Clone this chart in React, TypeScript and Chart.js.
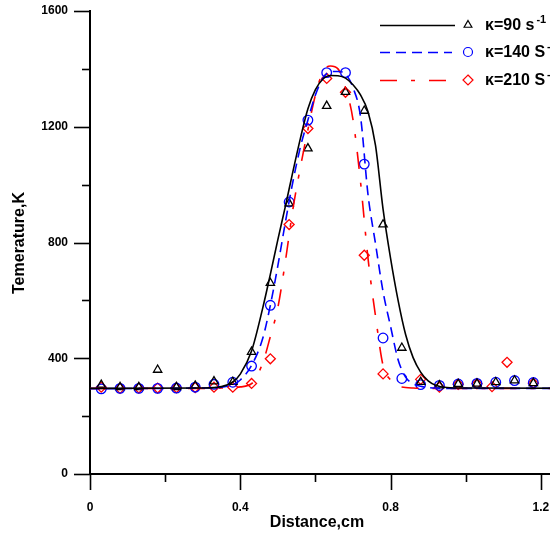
import React, { useEffect, useRef } from "react";
import { Chart, registerables } from "chart.js";

Chart.register(...registerables);

// Measured temperatures (K) at the sampling stations (cm)
const pointDistance = [
  0.03, 0.08, 0.13, 0.18, 0.23, 0.28, 0.33, 0.38, 0.43, 0.48, 0.53, 0.58,
  0.63, 0.68, 0.73, 0.78, 0.83, 0.88, 0.93, 0.98, 1.03, 1.08, 1.13, 1.18,
];
const kappa90Points = [
  308, 300, 300, 360, 300, 305, 320, 318, 422, 660, 935, 1125,
  1272, 1320, 1255, 862, 436, 318, 306, 311, 312, 317, 323, 314,
];
const kappa140Points = [
  294, 296, 296, 296, 297, 300, 310, 317, 373, 583, 940, 1223,
  1387, 1387, 1071, 470, 330, 309, 306, 311, 313, 317, 323, 316,
];
const kappa210Distance = [
  0.03, 0.08, 0.13, 0.18, 0.23, 0.28, 0.33, 0.38, 0.43, 0.48, 0.53, 0.58,
  0.63, 0.68, 0.73, 0.78, 0.88, 0.93, 0.98, 1.03, 1.07, 1.11, 1.18,
];
const kappa210Points = [
  300, 296, 297, 297, 298, 299, 300, 300, 313, 398, 862, 1194,
  1367, 1319, 756, 346, 327, 300, 310, 312, 302, 386, 314,
];

// Computed temperature profiles
const curveDistance = [
  0, 0.3, 0.35, 0.38, 0.4, 0.43, 0.46, 0.48, 0.5, 0.52, 0.54, 0.56, 0.58,
  0.6, 0.62, 0.64, 0.66, 0.68, 0.7, 0.72, 0.74, 0.76, 0.78, 0.8, 0.82,
  0.84, 0.86, 0.88, 0.9, 0.92, 0.95, 1.0, 1.4,
];
const kappa90Curve = [
  296, 297, 302, 318, 345, 425, 575, 690, 810, 925, 1045, 1160, 1262,
  1328, 1365, 1377, 1376, 1368, 1345, 1310, 1252, 1135, 915, 745, 600,
  482, 402, 352, 322, 307, 299, 297, 296,
];
const kappa140Curve = [
  295, 297, 300, 308, 325, 375, 470, 583, 720, 870, 1010, 1130, 1223,
  1310, 1368, 1390, 1391, 1382, 1335, 1235, 965, 795, 630, 510, 395,
  335, 312, 303, 299, 297, 296, 296, 296,
];
const kappa210Curve = [
  296, 296, 297, 298, 301, 312, 385, 475, 575, 735, 915, 1060, 1190,
  1310, 1390, 1410, 1400, 1335, 1225, 1010, 745, 545, 375, 325, 304,
  299, 297, 296, 296, 296, 296, 296, 296,
];

// Axis ticks
const xMajorTicks = [0, 0.4, 0.8, 1.2];
const xTickLabels = ["0", "0.4", "0.8", "1.2"];
const xMinorTicks = [0.2, 0.6, 1.0];
const yMajorTicks = [0, 400, 800, 1200, 1600];
const yTickLabels = ["0", "400", "800", "1200", "1600"];
const yMinorTicks = [200, 600, 1000, 1400];

const legendLabels = ["κ=90 s", "κ=140 S", "κ=210 S"];
const legendSuffix = "-1";

const FONT = '"Liberation Sans", Arial, sans-serif';
const BLUE = "#0000ff";
const RED = "#ff0000";
const BLUE_DASH = [10, 6];
const RED_DASH = [17, 14, 4, 14];

const zip = (xs: number[], ys: number[]) => xs.map((x, i) => ({ x, y: ys[i] }));

function drawMarker(ctx: CanvasRenderingContext2D, kind: string, x: number, y: number, r: number) {
  ctx.beginPath();
  if (kind === "triangle") {
    ctx.moveTo(x, y - r);
    ctx.lineTo(x + r * 0.866, y + r * 0.5);
    ctx.lineTo(x - r * 0.866, y + r * 0.5);
    ctx.closePath();
  } else if (kind === "circle") {
    ctx.arc(x, y, r, 0, Math.PI * 2);
  } else {
    ctx.moveTo(x, y - r);
    ctx.lineTo(x + r, y);
    ctx.lineTo(x, y + r);
    ctx.lineTo(x - r, y);
    ctx.closePath();
  }
  ctx.stroke();
}

const axisDecor = {
  id: "axisDecor",
  afterDraw(chart: any) {
    const { ctx, scales, chartArea } = chart;
    const xs = scales.x;
    const ys = scales.y;
    ctx.save();
    ctx.strokeStyle = "#000";
    ctx.lineWidth = 1.6;
    // y tick marks (outside, to the left)
    const drawY = (v: number, len: number) => {
      const py = Math.round(ys.getPixelForValue(v)) + 0.5;
      ctx.beginPath();
      ctx.moveTo(chartArea.left - len, py);
      ctx.lineTo(chartArea.left, py);
      ctx.stroke();
    };
    yMajorTicks.forEach((v) => drawY(v, 16));
    yMinorTicks.forEach((v) => drawY(v, 8));
    // x tick marks (outside, below)
    const drawX = (v: number, len: number) => {
      const px = Math.round(xs.getPixelForValue(v)) + 0.5;
      ctx.beginPath();
      ctx.moveTo(px, chartArea.bottom);
      ctx.lineTo(px, chartArea.bottom + len);
      ctx.stroke();
    };
    xMajorTicks.forEach((v) => drawX(v, 16));
    xMinorTicks.forEach((v) => drawX(v, 8));

    // axis titles
    ctx.fillStyle = "#000";
    ctx.font = `bold 16px ${FONT}`;
    ctx.textAlign = "center";
    ctx.textBaseline = "middle";
    ctx.fillText("Distance,cm", 317, 523);
    ctx.save();
    ctx.translate(20, 243);
    ctx.rotate(-Math.PI / 2);
    ctx.fillText("Temerature,K", 0, 0);
    ctx.restore();

    // legend
    const rows = [
      { y: 25, color: "#000", dash: [] as number[], x2: 455, marker: "triangle", r: 4.5 },
      { y: 52, color: BLUE, dash: BLUE_DASH, x2: 452, marker: "circle", r: 4.5 },
      { y: 80, color: RED, dash: RED_DASH, x2: 446, marker: "diamond", r: 5 },
    ];
    rows.forEach((row, i) => {
      ctx.strokeStyle = row.color;
      ctx.lineWidth = 1.6;
      ctx.setLineDash(row.dash);
      ctx.beginPath();
      ctx.moveTo(380, row.y + 0.5);
      ctx.lineTo(row.x2, row.y + 0.5);
      ctx.stroke();
      ctx.setLineDash([]);
      ctx.lineWidth = 1.2;
      drawMarker(ctx, row.marker, 468, row.y, row.r);
      ctx.fillStyle = "#000";
      ctx.textAlign = "left";
      ctx.textBaseline = "middle";
      ctx.font = `bold 16px ${FONT}`;
      ctx.fillText(legendLabels[i], 485, row.y + 1);
      const w = ctx.measureText(legendLabels[i]).width;
      ctx.font = `bold 11px ${FONT}`;
      ctx.fillText(legendSuffix, 485 + w + 2, row.y - 5);
    });
    ctx.restore();
  },
};

export default function App() {
  const canvasRef = useRef<HTMLCanvasElement | null>(null);

  useEffect(() => {
    const canvas = canvasRef.current;
    if (!canvas) return;

    const curveStyle = {
      type: "line" as const,
      pointRadius: 0,
      borderWidth: 1.6,
      fill: false,
      cubicInterpolationMode: "monotone" as const,
      showLine: true,
    };
    const markerStyle = {
      type: "scatter" as const,
      showLine: false,
      backgroundColor: "rgba(0,0,0,0)",
      pointBorderWidth: 1.3,
    };

    const chart = new Chart(canvas, {
      type: "scatter",
      data: {
        datasets: [
          { ...curveStyle, label: "κ=90 curve", data: zip(curveDistance, kappa90Curve), borderColor: "#000" },
          { ...curveStyle, label: "κ=140 curve", data: zip(curveDistance, kappa140Curve), borderColor: BLUE, borderDash: BLUE_DASH },
          { ...curveStyle, label: "κ=210 curve", data: zip(curveDistance, kappa210Curve), borderColor: RED, borderDash: RED_DASH },
          { ...markerStyle, label: "κ=90", data: zip(pointDistance, kappa90Points), borderColor: "#000", pointStyle: "triangle", pointRadius: 4.8 },
          { ...markerStyle, label: "κ=140", data: zip(pointDistance, kappa140Points), borderColor: BLUE, pointStyle: "circle", pointRadius: 4.8 },
          { ...markerStyle, label: "κ=210", data: zip(kappa210Distance, kappa210Points), borderColor: RED, pointStyle: "rectRot", pointRadius: 5 },
        ] as any,
      },
      options: {
        animation: false,
        responsive: false,
        devicePixelRatio: 1,
        layout: { padding: { top: 11, right: 24, left: 0, bottom: 0 } },
        plugins: { legend: { display: false }, tooltip: { enabled: false } },
        scales: {
          x: {
            type: "linear",
            min: 0,
            max: 1.4,
            grid: { display: false, drawTicks: true, tickLength: 26 },
            border: { display: true, color: "#000", width: 2 },
            afterBuildTicks: (scale: any) => {
              scale.ticks = xMajorTicks.map((value) => ({ value }));
            },
            afterFit: (scale: any) => {
              scale.height = 61;
            },
            ticks: {
              padding: 0,
              color: "#000",
              font: { family: FONT, size: 12, weight: "bold" },
              maxRotation: 0,
              callback: (value: any) => xTickLabels[xMajorTicks.indexOf(Number(value))] ?? "",
            },
          },
          y: {
            type: "linear",
            min: 0,
            max: 1600,
            grid: { display: false, drawTicks: true, tickLength: 22 },
            border: { display: true, color: "#000", width: 2 },
            afterBuildTicks: (scale: any) => {
              scale.ticks = yMajorTicks.map((value) => ({ value }));
            },
            afterFit: (scale: any) => {
              scale.width = 90;
            },
            ticks: {
              padding: 0,
              color: "#000",
              font: { family: FONT, size: 12, weight: "bold" },
              callback: (value: any) => yTickLabels[yMajorTicks.indexOf(Number(value))] ?? "",
            },
          },
        },
      },
      plugins: [axisDecor],
    });

    return () => chart.destroy();
  }, []);

  return (
    <div
      style={{
        position: "fixed",
        left: 0,
        top: 0,
        width: 550,
        height: 535,
        overflow: "hidden",
        background: "#fff",
      }}
    >
      <canvas ref={canvasRef} width={640} height={535} style={{ display: "block" }} />
    </div>
  );
}
